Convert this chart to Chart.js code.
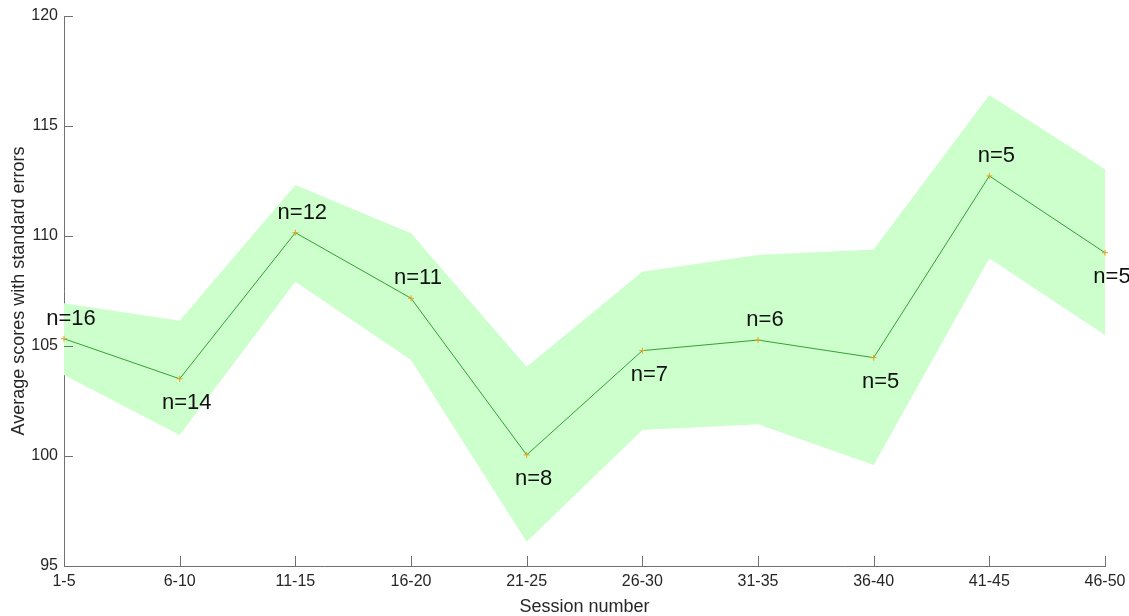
<!DOCTYPE html>
<html>
<head>
<meta charset="utf-8">
<script src="https://cdn.jsdelivr.net/npm/chart.js@4"></script>
<style>
  html, body { margin: 0; padding: 0; background: #fff; }
  #wrap { width: 1129px; height: 616px; }
</style>
</head>
<body>
<div id="wrap"><canvas id="scoreChart" width="1129" height="616"></canvas></div>
<script>
// Data
const sessions = ['1-5', '6-10', '11-15', '16-20', '21-25', '26-30', '31-35', '36-40', '41-45', '46-50'];
const meanScores = [105.33, 103.51, 110.15, 107.17, 100.05, 104.79, 105.27, 104.47, 112.73, 109.24];
const upperBound = [106.94, 106.15, 112.32, 110.12, 104.06, 108.38, 109.14, 109.39, 116.41, 113.03];
const lowerBound = [103.68, 100.95, 107.92, 104.36, 96.10, 101.18, 101.44, 99.59, 108.99, 105.50];
const sampleSizes = [16, 14, 12, 11, 8, 7, 6, 5, 5, 5];
const labelAbove = [true, false, true, true, false, false, true, false, true, false];
const yTicks = [95, 100, 105, 110, 115, 120];

const axisColor = '#707070';
const textColor = '#262626';
const fontFamily = "'Liberation Sans', Arial, Helvetica, sans-serif";

// inward tick marks like MATLAB
const inwardTicks = {
    id: 'inwardTicks',
    afterDraw(chart) {
        const ctx = chart.ctx;
        const x = chart.scales.x;
        const y = chart.scales.y;
        ctx.save();
        ctx.strokeStyle = axisColor;
        ctx.lineWidth = 1;
        ctx.beginPath();
        sessions.forEach((s, i) => {
            const px = Math.round(x.getPixelForValue(i)) + 0.5;
            ctx.moveTo(px, y.bottom);
            ctx.lineTo(px, y.bottom - 10);
        });
        yTicks.forEach(v => {
            const py = Math.round(y.getPixelForValue(v)) + 0.5;
            ctx.moveTo(x.left, py);
            ctx.lineTo(x.left + 9, py);
        });
        ctx.stroke();
        ctx.restore();
    }
};

// n= labels next to each mean point
const countLabels = {
    id: 'countLabels',
    afterDatasetsDraw(chart) {
        const ctx = chart.ctx;
        const meta = chart.getDatasetMeta(2);
        ctx.save();
        ctx.font = '22px ' + fontFamily;
        ctx.fillStyle = '#111';
        ctx.textAlign = 'center';
        ctx.textBaseline = 'middle';
        meta.data.forEach((pt, i) => {
            const dy = labelAbove[i] ? -20 : 24;
            ctx.fillText('n=' + sampleSizes[i], pt.x + 7, pt.y + dy);
        });
        ctx.restore();
    }
};

const ctx = document.getElementById('scoreChart').getContext('2d');
new Chart(ctx, {
    type: 'line',
    data: {
        labels: sessions,
        datasets: [
            {
                data: upperBound,
                fill: '+1',
                backgroundColor: 'rgb(204, 255, 204)',
                borderWidth: 0,
                pointRadius: 0,
                order: 2
            },
            {
                data: lowerBound,
                fill: false,
                borderWidth: 0,
                pointRadius: 0,
                order: 3
            },
            {
                data: meanScores,
                fill: false,
                borderColor: '#34a034',
                borderWidth: 1,
                pointStyle: 'cross',
                pointRadius: 3,
                pointBorderColor: '#e8a020',
                pointBorderWidth: 1,
                clip: false,
                order: 0
            }
        ]
    },
    options: {
        responsive: false,
        animation: false,
        events: [],
        layout: { padding: { top: 16, right: 24, left: 0, bottom: 0 } },
        elements: { line: { tension: 0 } },
        scales: {
            x: {
                offset: false,
                grid: { display: false, drawTicks: false },
                border: { display: true, color: axisColor, width: 1 },
                ticks: {
                    color: textColor,
                    font: { size: 16, family: fontFamily },
                    padding: 6,
                    maxRotation: 0,
                    autoSkip: false
                },
                title: {
                    display: true,
                    text: 'Session number',
                    color: textColor,
                    font: { size: 18, family: fontFamily, lineHeight: 1 },
                    padding: { top: 2, bottom: 0 }
                },
                afterFit(scale) {
                    scale.height = 50;
                    scale.paddingLeft = 0;
                    scale.paddingRight = 0;
                }
            },
            y: {
                min: 95,
                max: 120,
                grid: { display: false, drawTicks: false },
                border: { display: true, color: axisColor, width: 1 },
                afterBuildTicks(scale) {
                    scale.ticks = yTicks.map(v => ({ value: v }));
                },
                ticks: {
                    color: textColor,
                    font: { size: 16, family: fontFamily },
                    padding: 6
                },
                title: {
                    display: true,
                    text: 'Average scores with standard errors',
                    color: textColor,
                    font: { size: 18, family: fontFamily, lineHeight: 1 },
                    padding: { top: 10, bottom: 4 }
                },
                afterFit(scale) {
                    scale.width = 64;
                    scale.paddingTop = 0;
                    scale.paddingBottom = 0;
                }
            }
        },
        plugins: {
            legend: { display: false },
            tooltip: { enabled: false },
            filler: { drawTime: 'beforeDatasetsDraw' }
        }
    },
    plugins: [inwardTicks, countLabels]
});
</script>
</body>
</html>
